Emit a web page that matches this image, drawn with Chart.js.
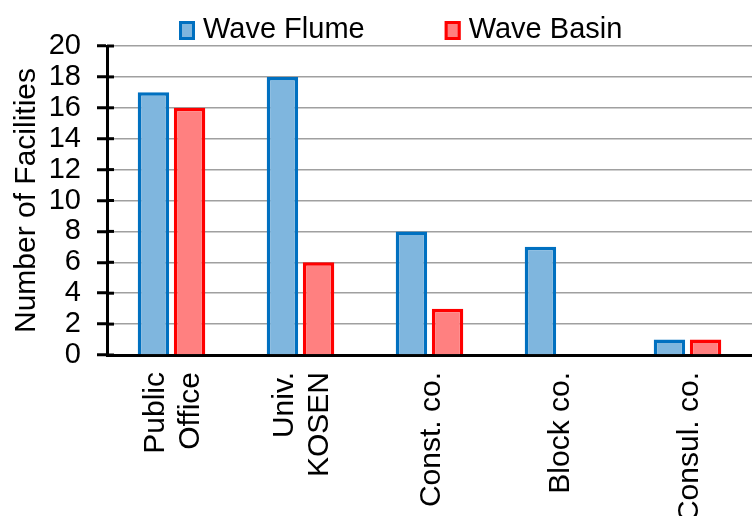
<!DOCTYPE html>
<html>
<head>
<meta charset="utf-8">
<script src="https://cdn.jsdelivr.net/npm/chart.js@4.4.1/dist/chart.umd.min.js"></script>
<style>
  html, body { margin: 0; padding: 0; background: #fff; }
  #wrap { width: 752px; height: 516px; }
</style>
</head>
<body>
<div id="wrap"><canvas id="myChart"></canvas></div>
<script>
// data
const categories = [["Public", "Office"], ["Univ.", "KOSEN"], "Const. co.", "Block co.", "Consul. co."];
const waveFlume = [17, 18, 8, 7, 1];
const waveBasin = [16, 6, 3, 0, 1];
const yMin = 0, yMax = 20, yStep = 2;
const yTitle = "Number of Facilities";

const FONT = '"Liberation Sans", Arial, sans-serif';
Chart.defaults.font.family = FONT;
Chart.defaults.color = '#000';

// legend drawn by hand so the gap between the two items matches
const topLegend = {
  id: 'topLegend',
  afterDraw(chart) {
    let ctx = chart.ctx;
    ctx.save();
    ctx.font = '29px ' + FONT;
    ctx.textBaseline = 'alphabetic';
    let x = 179;
    chart.data.datasets.forEach(ds => {
      ctx.fillStyle = ds.backgroundColor;
      ctx.fillRect(x, 21, 16, 19);
      ctx.lineWidth = 3;
      ctx.strokeStyle = ds.borderColor;
      ctx.strokeRect(x + 1.5, 22.5, 13, 16);
      ctx.fillStyle = '#000';
      ctx.fillText(ds.label, x + 24, 38);
      x += 24 + ctx.measureText(ds.label).width + 80;
    });
    ctx.restore();
  }
};

// short tick marks on the inside of the value axis
const innerTicks = {
  id: 'innerTicks',
  afterDatasetsDraw(chart) {
    let y = chart.scales.y, ctx = chart.ctx, left = chart.chartArea.left;
    ctx.save();
    ctx.strokeStyle = '#000';
    ctx.lineWidth = 3;
    y.ticks.forEach(t => {
      let py = y.getPixelForValue(t.value);
      ctx.beginPath();
      ctx.moveTo(left, py);
      ctx.lineTo(left + 7, py);
      ctx.stroke();
    });
    ctx.restore();
  }
};

// category labels, turned 90 degrees, lines centred on each tick
const xLabels = {
  id: 'xLabels',
  afterDraw(chart) {
    let x = chart.scales.x, ctx = chart.ctx;
    ctx.save();
    ctx.font = '30px ' + FONT;
    ctx.fillStyle = '#000';
    ctx.textAlign = 'right';
    ctx.textBaseline = 'middle';
    categories.forEach((c, i) => {
      let lines = Array.isArray(c) ? c : [c];
      let px = x.getPixelForTick(i);
      lines.forEach((line, j) => {
        let off = (j - (lines.length - 1) / 2) * 35 + 2;
        ctx.save();
        ctx.translate(px + off, chart.chartArea.bottom + 17);
        ctx.rotate(-Math.PI / 2);
        ctx.fillText(line, 0, 0);
        ctx.restore();
      });
    });
    ctx.restore();
  }
};

let myChart = document.getElementById('myChart').getContext('2d');
let barChart = new Chart(myChart, {
  type: 'bar',
  data: {
    labels: categories,
    datasets: [{
      label: 'Wave Flume',
      data: waveFlume,
      backgroundColor: 'rgb(127, 182, 222)',
      borderColor: 'rgb(0, 112, 192)',
      borderWidth: 3.5,
      barPercentage: 0.87,
      categoryPercentage: 0.56
    },
    {
      label: 'Wave Basin',
      data: waveBasin,
      backgroundColor: 'rgb(255, 128, 128)',
      borderColor: 'rgb(255, 0, 0)',
      borderWidth: 3.5,
      barPercentage: 0.87,
      categoryPercentage: 0.56
    }]
  },
  options: {
    responsive: true,
    maintainAspectRatio: false,
    animation: false,
    layout: { padding: { top: 46, left: 0, right: 0, bottom: 0 } },
    plugins: {
      legend: { display: false },
      tooltip: { enabled: false }
    },
    scales: {
      x: {
        grid: { display: false, drawTicks: false },
        border: { color: '#000', width: 3 },
        ticks: { display: false },
        afterFit(scale) { scale.height = 161; }
      },
      y: {
        min: yMin,
        max: yMax,
        ticks: { stepSize: yStep, font: { size: 29 }, padding: 16, autoSkip: false },
        grid: { color: '#A0A0A0', lineWidth: 1.5, tickColor: '#000', tickWidth: 3, tickLength: 10 },
        border: { color: '#000', width: 3 },
        title: { display: true, text: yTitle, font: { size: 30 }, padding: { top: 9, bottom: 0 } },
        afterFit(scale) { scale.width = 107; }
      }
    }
  },
  plugins: [topLegend, innerTicks, xLabels]
});
</script>
</body>
</html>
